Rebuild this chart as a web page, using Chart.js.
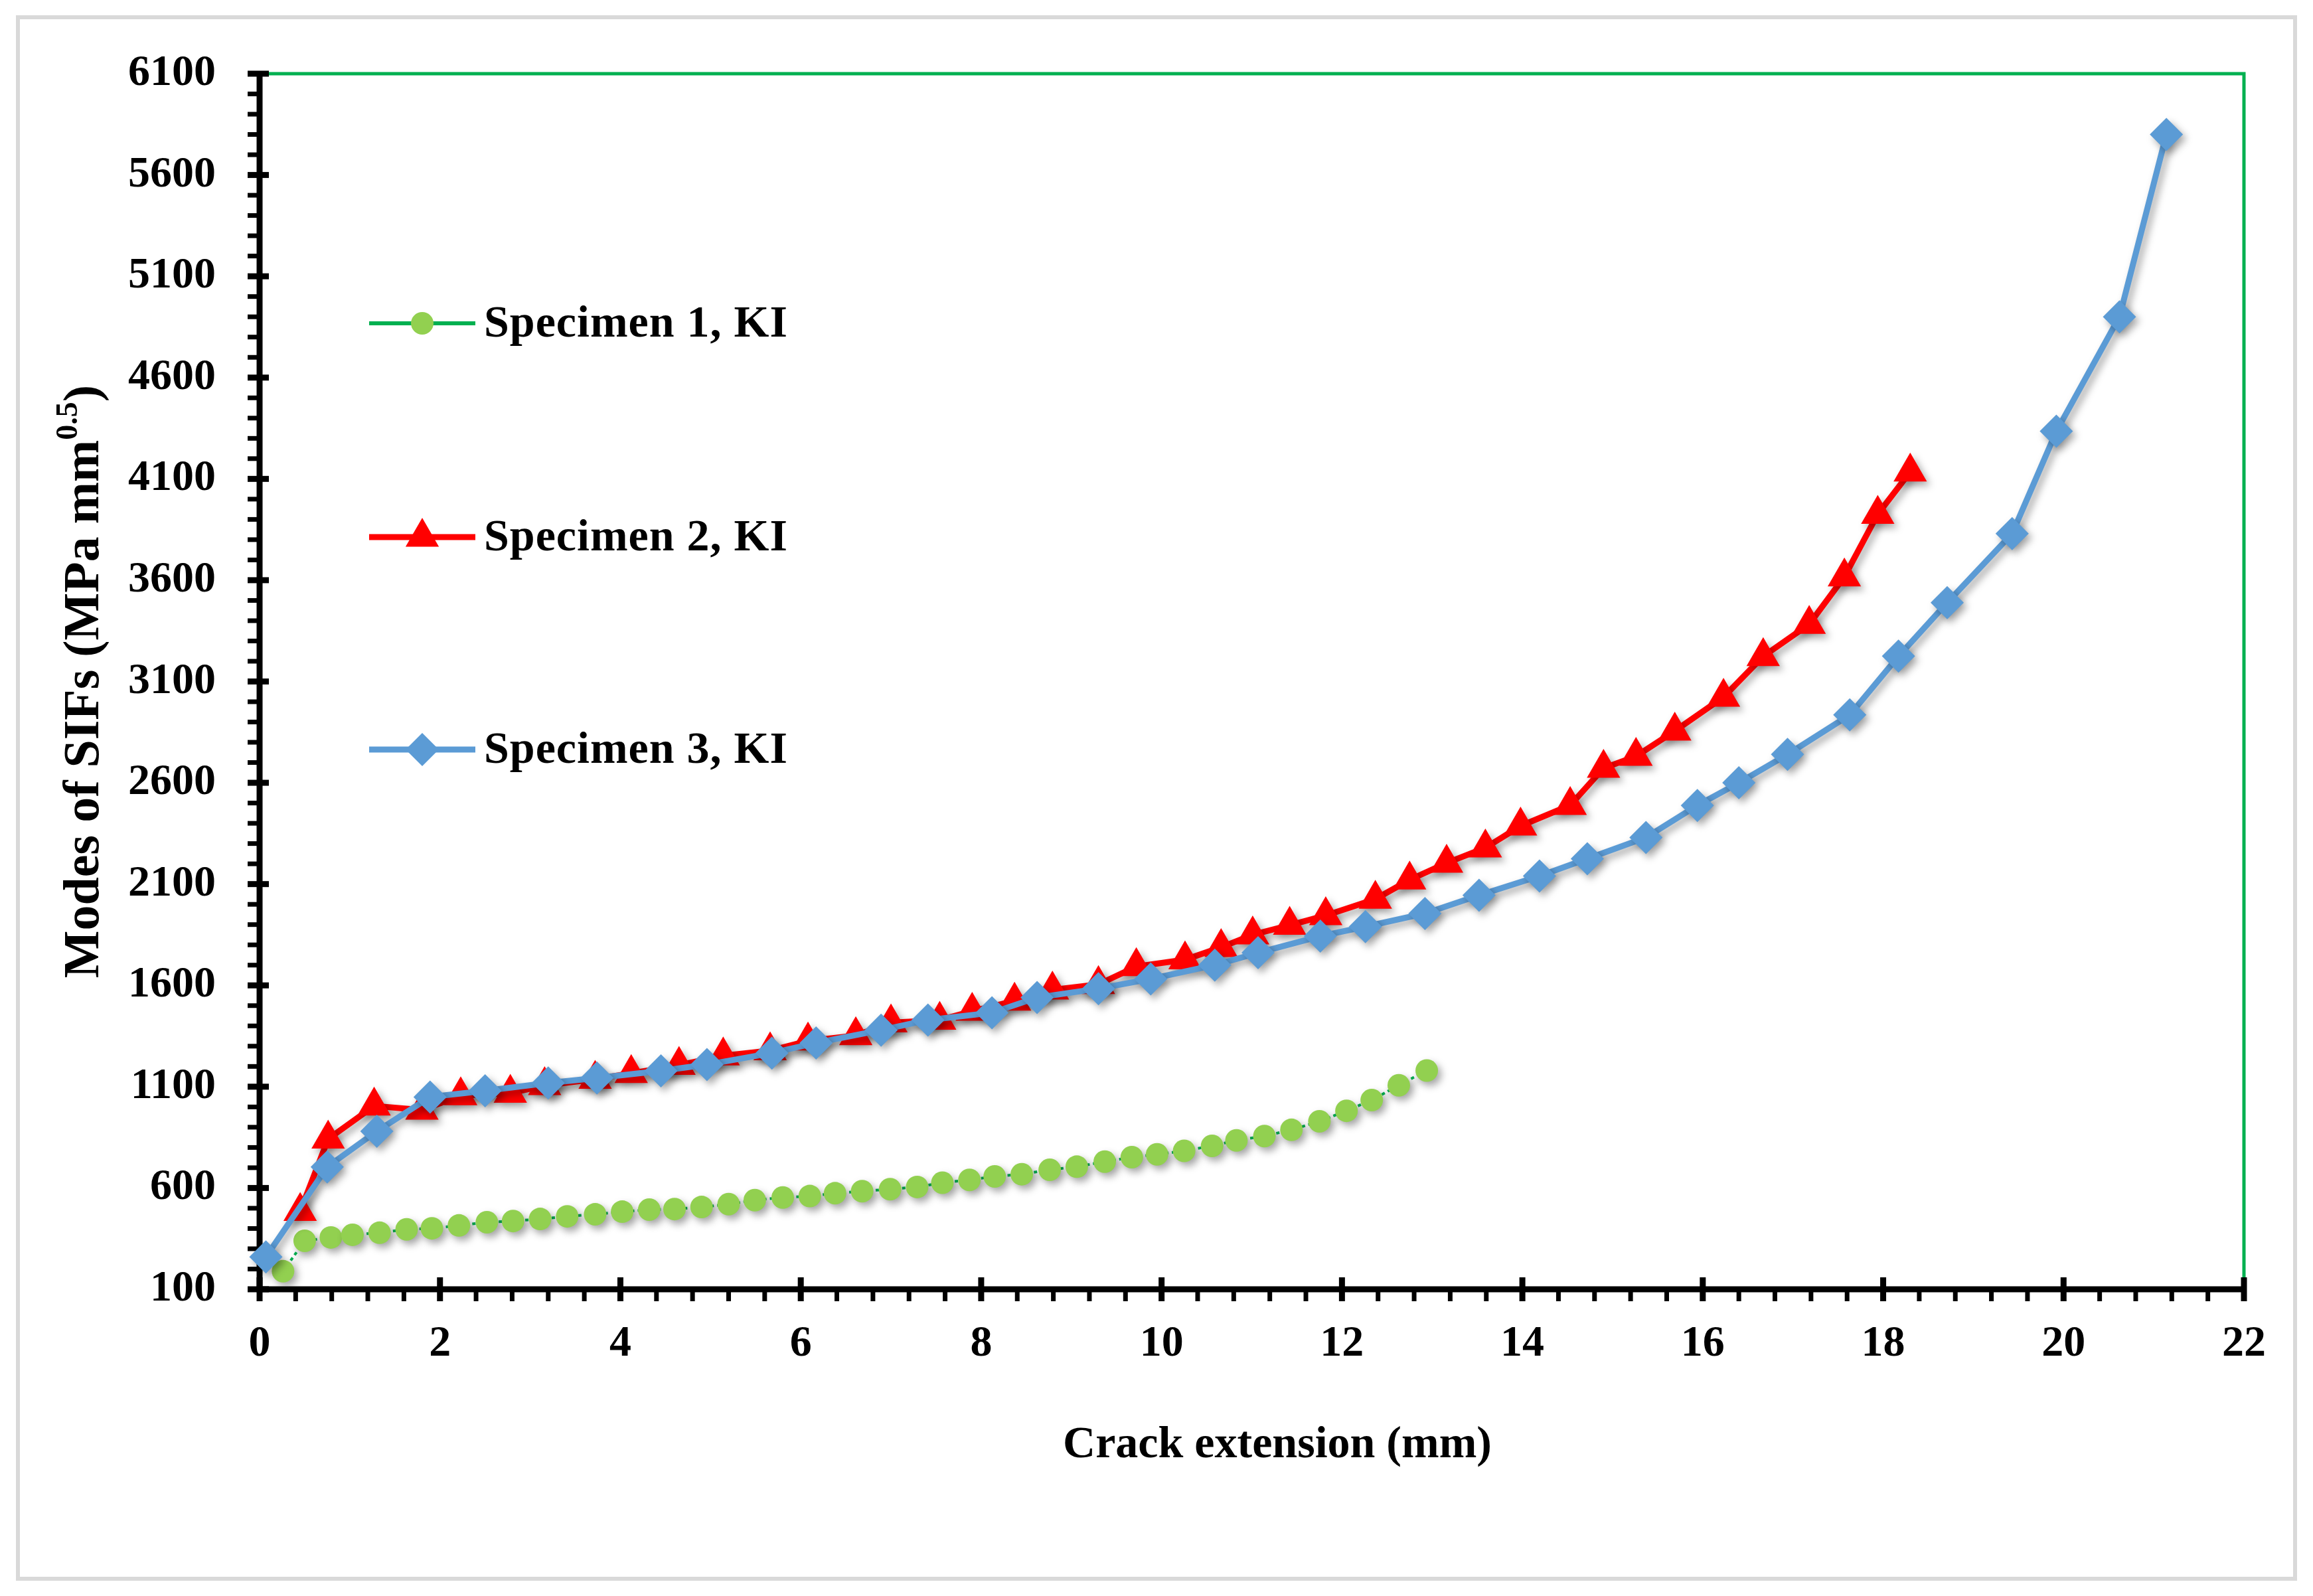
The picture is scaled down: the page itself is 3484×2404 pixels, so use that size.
<!DOCTYPE html>
<html>
<head>
<meta charset="utf-8">
<script src="https://cdn.jsdelivr.net/npm/chart.js@4.4.0/dist/chart.umd.min.js"></script>
<style>
  html, body { margin: 0; padding: 0; background: #fff; }
  #wrap { width: 3484px; height: 2404px; }
</style>
</head>
<body>
<div id="wrap"><canvas id="sifChart"></canvas></div>
<script>
// Specimen 1, KI (green circles)
const spec1X = [0.26, 0.50, 0.79, 1.03, 1.33, 1.63, 1.91, 2.21, 2.52, 2.81, 3.11, 3.41, 3.72, 4.02, 4.32,
  4.60, 4.90, 5.20, 5.49, 5.80, 6.10, 6.38, 6.68, 6.99, 7.29, 7.57, 7.87, 8.15, 8.45, 8.76,
  9.06, 9.37, 9.67, 9.95, 10.25, 10.56, 10.83, 11.14, 11.44, 11.75, 12.05, 12.33, 12.63, 12.94];
const spec1Y = [189, 339, 356, 369, 379, 396, 401, 415, 431, 437, 447, 460, 470, 483, 493,
  496, 506, 520, 540, 553, 560, 574, 584, 594, 605, 626, 640, 657, 668, 690,
  705, 730, 752, 766, 783, 808, 835, 856, 887, 929, 981, 1034, 1107, 1180];

// Specimen 2, KI (red triangles)
const spec2X = [0.45, 0.76, 1.27, 1.80, 2.23, 2.78, 3.16, 3.72, 4.12, 4.65, 5.14, 5.66, 6.08, 6.61,
  7.00, 7.54, 7.90, 8.37, 8.79, 9.30, 9.72, 10.26, 10.66, 11.01, 11.42, 11.82, 12.37, 12.75,
  13.16, 13.59, 13.98, 14.53, 14.90, 15.26, 15.69, 16.23, 16.67, 17.18, 17.57, 17.94, 18.30];
const spec2Y = [485, 842, 1005, 985, 1056, 1068, 1106, 1137, 1166, 1206, 1253, 1278, 1326, 1353,
  1416, 1429, 1473, 1523, 1578, 1605, 1693, 1727, 1788, 1850, 1897, 1945, 2026, 2121,
  2204, 2279, 2387, 2489, 2672, 2731, 2856, 3023, 3224, 3383, 3617, 3926, 4135];

// Specimen 3, KI (blue diamonds)
const spec3X = [0.07, 0.75, 1.30, 1.89, 2.50, 3.20, 3.74, 4.45, 4.96, 5.68, 6.17, 6.89, 7.41, 8.12,
  8.62, 9.30, 9.88, 10.59, 11.07, 11.76, 12.26, 12.92, 13.52, 14.19, 14.72, 15.37, 15.94,
  16.40, 16.94, 17.63, 18.17, 18.71, 19.43, 19.92, 20.62, 21.14];
const spec3Y = [260, 704, 880, 1049, 1080, 1118, 1143, 1178, 1209, 1266, 1316, 1379, 1429, 1465,
  1540, 1584, 1632, 1700, 1761, 1843, 1890, 1955, 2045, 2140, 2225, 2330, 2488,
  2600, 2740, 2935, 3225, 3489, 3830, 4335, 4900, 5800];

const seriesLabels = ['Specimen 1, KI', 'Specimen 2, KI', 'Specimen 3, KI'];
const xTicks = [0, 2, 4, 6, 8, 10, 12, 14, 16, 18, 20, 22];
const yTicks = [100, 600, 1100, 1600, 2100, 2600, 3100, 3600, 4100, 4600, 5100, 5600, 6100];

const toPoints = (xs, ys) => xs.map((x, i) => ({ x: x, y: ys[i] }));

Chart.defaults.font.family = '"Liberation Serif", "Times New Roman", serif';
Chart.defaults.font.weight = 'bold';
Chart.defaults.color = '#000';

// white page, grey outer border
const pagePlugin = {
  id: 'page',
  beforeDraw(chart) {
    const ctx = chart.ctx;
    ctx.save();
    ctx.fillStyle = '#ffffff';
    ctx.fillRect(0, 0, chart.width, chart.height);
    ctx.strokeStyle = '#d9d9d9';
    ctx.lineWidth = 6;
    ctx.strokeRect(27, 26, chart.width - 54, chart.height - 52);
    ctx.restore();
  }
};

// axes, tick marks, green frame and marker shadows
const axesPlugin = {
  id: 'axes',
  beforeDatasetsDraw(chart) {
    const { ctx, chartArea: a, scales: { x, y } } = chart;
    ctx.save();
    ctx.strokeStyle = '#00b050';
    ctx.lineWidth = 5;
    ctx.beginPath();
    ctx.moveTo(a.left, a.top);
    ctx.lineTo(a.right, a.top);
    ctx.lineTo(a.right, a.bottom);
    ctx.stroke();

    ctx.strokeStyle = '#000';
    ctx.lineCap = 'butt';
    ctx.lineWidth = 9;
    ctx.beginPath();
    ctx.moveTo(a.left, a.top - 4);
    ctx.lineTo(a.left, a.bottom);
    ctx.lineTo(a.right + 4, a.bottom);
    ctx.stroke();

    // y ticks: minor every 100, major every 500
    for (let i = 0; i <= 60; i++) {
      const py = y.getPixelForValue(100 + i * 100);
      const major = i % 5 === 0;
      ctx.lineWidth = major ? 9 : 7;
      ctx.beginPath();
      ctx.moveTo(a.left - 18, py);
      ctx.lineTo(major ? a.left + 14 : a.left, py);
      ctx.stroke();
    }
    // x ticks: minor every 0.4, major every 2
    for (let i = 0; i <= 55; i++) {
      const px = x.getPixelForValue(i * 0.4);
      const major = i % 5 === 0;
      ctx.lineWidth = major ? 9 : 7;
      ctx.beginPath();
      ctx.moveTo(px, major ? a.bottom - 18 : a.bottom);
      ctx.lineTo(px, a.bottom + 18);
      ctx.stroke();
    }
    ctx.restore();

    ctx.save();
    ctx.shadowColor = 'rgba(0, 0, 0, 0.35)';
    ctx.shadowBlur = 12;
    ctx.shadowOffsetX = 5;
    ctx.shadowOffsetY = 6;
  },
  afterDatasetsDraw(chart) {
    chart.ctx.restore();
  }
};

// legend inside plot, axis titles
const legendRows = [487, 809, 1129];
const textPlugin = {
  id: 'texts',
  afterDraw(chart) {
    const { ctx, chartArea: a } = chart;
    [0, 1, 2].forEach(i => {
      const ds = chart.data.datasets[i];
      const yy = legendRows[i];
      ctx.save();
      ctx.strokeStyle = ds.borderColor;
      ctx.lineWidth = i === 0 ? 6 : ds.borderWidth;
      ctx.beginPath();
      ctx.moveTo(556, yy);
      ctx.lineTo(716, yy);
      ctx.stroke();
      ctx.fillStyle = ds.pointBackgroundColor;
      Chart.helpers.drawPoint(ctx, { pointStyle: ds.pointStyle, radius: ds.pointRadius, rotation: 0, borderWidth: 0 }, 636, yy);
      ctx.fillStyle = '#000';
      ctx.font = 'bold 68px "Liberation Serif"';
      ctx.letterSpacing = '1px';
      ctx.textBaseline = 'middle';
      ctx.textAlign = 'left';
      ctx.fillText(ds.label, 729, yy + 2);
      ctx.restore();
    });

    // x title, centred where the original sits
    ctx.save();
    ctx.fillStyle = '#000';
    ctx.font = 'bold 68px "Liberation Serif"';
    ctx.textAlign = 'center';
    ctx.textBaseline = 'middle';
    ctx.fillText('Crack extension (mm)', 1924, 2177);
    ctx.restore();

    // y title with superscript
    ctx.save();
    ctx.translate(122, (a.top + a.bottom) / 2);
    ctx.rotate(-Math.PI / 2);
    ctx.fillStyle = '#000';
    ctx.textBaseline = 'alphabetic';
    ctx.textAlign = 'left';
    const mainFont = 'bold 76px "Liberation Serif"';
    const supFont = 'bold 46px "Liberation Serif"';
    const part1 = 'Modes of SIFs (MPa mm';
    const part2 = '0.5';
    const part3 = ')';
    ctx.font = mainFont;
    const w1 = ctx.measureText(part1).width;
    const w3 = ctx.measureText(part3).width;
    ctx.font = supFont;
    const w2 = ctx.measureText(part2).width;
    let xx = -(w1 + w2 + w3) / 2;
    const base = 26;
    ctx.font = mainFont;
    ctx.fillText(part1, xx, base);
    xx += w1;
    ctx.font = supFont;
    ctx.fillText(part2, xx, base - 32);
    xx += w2;
    ctx.font = mainFont;
    ctx.fillText(part3, xx, base);
    ctx.restore();
  }
};

const ctx = document.getElementById('sifChart').getContext('2d');
new Chart(ctx, {
  type: 'line',
  data: {
    datasets: [
      {
        label: seriesLabels[0],
        data: toPoints(spec1X, spec1Y),
        borderColor: '#00b050',
        borderWidth: 4,
        borderDash: [5, 5],
        pointStyle: 'circle',
        pointRadius: 17,
        pointBackgroundColor: '#92d050',
        pointBorderWidth: 0,
        tension: 0,
        clip: false,
        order: 3
      },
      {
        label: seriesLabels[1],
        data: toPoints(spec2X, spec2Y),
        borderColor: '#ff0000',
        borderWidth: 9,
        pointStyle: 'triangle',
        pointRadius: 29,
        pointBackgroundColor: '#ff0000',
        pointBorderWidth: 0,
        tension: 0,
        clip: false,
        order: 2
      },
      {
        label: seriesLabels[2],
        data: toPoints(spec3X, spec3Y),
        borderColor: '#5b9bd5',
        borderWidth: 9,
        pointStyle: 'rectRot',
        pointRadius: 25,
        pointBackgroundColor: '#5b9bd5',
        pointBorderWidth: 0,
        tension: 0,
        clip: false,
        order: 1
      }
    ]
  },
  options: {
    responsive: true,
    maintainAspectRatio: false,
    devicePixelRatio: 1,
    animation: false,
    events: [],
    layout: {
      padding: { top: 111, right: 104, bottom: 0, left: 0 }
    },
    scales: {
      x: {
        type: 'linear',
        min: 0,
        max: 22,
        grid: { display: false, drawTicks: false },
        border: { display: false },
        afterBuildTicks: scale => { scale.ticks = xTicks.map(v => ({ value: v })); },
        afterFit: scale => { scale.height = 462; },
        ticks: {
          autoSkip: false,
          maxRotation: 0,
          padding: 43,
          font: { size: 66, weight: 'bold' },
          callback: value => String(value)
        }
      },
      y: {
        type: 'linear',
        min: 100,
        max: 6100,
        grid: { display: false, drawTicks: false },
        border: { display: false },
        afterBuildTicks: scale => { scale.ticks = yTicks.map(v => ({ value: v })); },
        afterFit: scale => { scale.width = 391; },
        ticks: {
          autoSkip: false,
          padding: 66,
          font: { size: 66, weight: 'bold' },
          callback: value => String(value)
        }
      }
    },
    plugins: {
      legend: { display: false },
      tooltip: { enabled: false }
    }
  },
  plugins: [pagePlugin, axesPlugin, textPlugin]
});
</script>
</body>
</html>
